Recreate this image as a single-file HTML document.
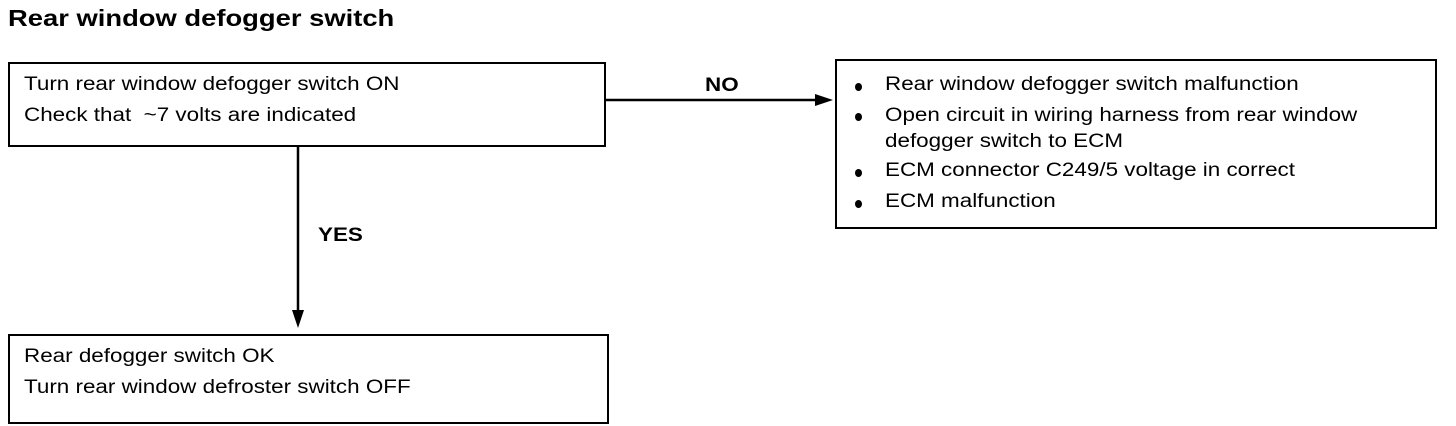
<!DOCTYPE html>
<html><head><style>
body{margin:0;width:1456px;height:426px;background:#fff;position:relative;overflow:hidden;font-family:"Liberation Sans",Arial,sans-serif;color:#000}
.t{position:absolute;white-space:nowrap;font-size:19px;line-height:20px;transform:scaleX(1.18);transform-origin:0 0}
.box{position:absolute;border:2.5px solid #000;box-sizing:border-box}
.b{font-weight:bold}
.dot{position:absolute;width:7px;height:8px;border-radius:50%;background:#000}
</style></head><body>
<div class="t b" style="left:8px;top:6px;font-size:23px;line-height:24px;transform:scaleX(1.19)">Rear window defogger switch</div>

<div class="box" style="left:8px;top:62px;width:598px;height:85px"></div>
<div class="t" style="left:24px;top:75px">Turn rear window defogger switch ON</div>
<div class="t" style="left:24px;top:106px">Check that &nbsp;~7 volts are indicated</div>

<div class="box" style="left:835px;top:59px;width:602px;height:170px"></div>
<div class="dot" style="left:855px;top:83px"></div>
<div class="t" style="left:885px;top:75px">Rear window defogger switch malfunction</div>
<div class="dot" style="left:855px;top:113px"></div>
<div class="t" style="left:885px;top:106px">Open circuit in wiring harness from rear window</div>
<div class="t" style="left:885px;top:132px">defogger switch to ECM</div>
<div class="dot" style="left:855px;top:169px"></div>
<div class="t" style="left:885px;top:161px">ECM connector C249/5 voltage in correct</div>
<div class="dot" style="left:855px;top:200px"></div>
<div class="t" style="left:885px;top:192px">ECM malfunction</div>

<div class="box" style="left:8px;top:334px;width:601px;height:90px"></div>
<div class="t" style="left:24px;top:347px">Rear defogger switch OK</div>
<div class="t" style="left:24px;top:378px">Turn rear window defroster switch OFF</div>

<div class="t b" style="left:705px;top:76px">NO</div>
<div class="t b" style="left:318px;top:226px">YES</div>

<svg style="position:absolute;left:0;top:0" width="1456" height="426">
<line x1="606" y1="100" x2="822" y2="100" stroke="#000" stroke-width="2.5"/>
<polygon points="833,100 815,94 815,106" fill="#000"/>
<line x1="298" y1="147" x2="298" y2="315" stroke="#000" stroke-width="2.5"/>
<polygon points="298,328 292,310 304,310" fill="#000"/>
</svg>
</body></html>
